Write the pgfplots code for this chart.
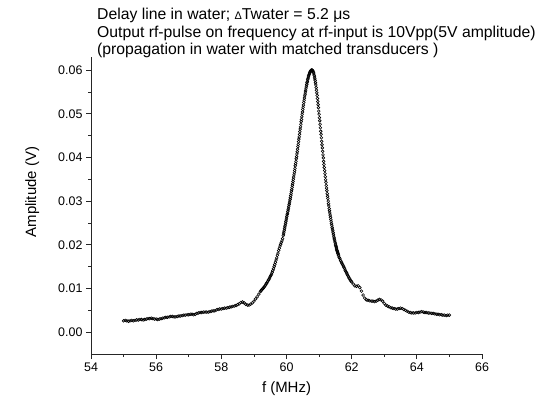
\documentclass[border=0pt]{standalone}
\usepackage{fontspec}
\setmainfont{Liberation Sans}
\usepackage{pgfplots}
\pgfplotsset{compat=1.18}
\begin{document}
\begin{tikzpicture}[x=1bp,y=1bp]
\path[use as bounding box] (0,0) rectangle (543,399);
\begin{axis}[
  at={(91bp,45bp)}, anchor=south west,
  scale only axis, width=391bp, height=297bp,
  xmin=54, xmax=66, ymin=-0.005, ymax=0.063,
  axis x line*=bottom, axis y line*=left,
  axis line style={-, line width=0.9bp, black!85},
  tick align=outside,
  xtick={54,56,58,60,62,64,66}, minor xtick={55,57,59,61,63,65},
  ytick={0,0.01,0.02,0.03,0.04,0.05,0.06},
  minor ytick={0.005,0.015,0.025,0.035,0.045,0.055},
  major tick length=5bp, minor tick length=3bp,
  every tick/.style={black!85, line width=0.8bp},
  /pgf/number format/assume math mode=true,
  tick label style={font=\fontsize{12.5}{13}\selectfont},
  yticklabel style={/pgf/number format/.cd, fixed, fixed zerofill, precision=2},
  scaled y ticks=false,
  xlabel={f (MHz)}, ylabel={Amplitude (V)},
  label style={font=\fontsize{15}{16}\selectfont},
  xlabel style={at={(axis description cs:0.5,-0.115)}, anchor=center},
  ylabel style={at={(axis description cs:-0.15,0.545)}, anchor=center},
  clip=false,
]
\addplot[only marks, mark=o, mark size=1.4pt, mark options={line width=0.6pt, black}] coordinates {
(55.00,0.0026) (55.05,0.0027) (55.10,0.0026) (55.15,0.0025) (55.20,0.0026) (55.25,0.0027) (55.30,0.0026) (55.35,0.0027)
(55.40,0.0028) (55.45,0.0028) (55.50,0.0029) (55.55,0.0029) (55.60,0.0028) (55.65,0.0029) (55.70,0.0030) (55.75,0.0031)
(55.80,0.0031) (55.85,0.0032) (55.90,0.0031) (55.95,0.0030) (56.00,0.0030) (56.05,0.0029) (56.10,0.0030) (56.15,0.0031)
(56.20,0.0032) (56.25,0.0033) (56.30,0.0034) (56.35,0.0034) (56.40,0.0035) (56.45,0.0036) (56.50,0.0036) (56.55,0.0035)
(56.60,0.0035) (56.65,0.0036) (56.70,0.0037) (56.75,0.0037) (56.80,0.0038) (56.85,0.0039) (56.90,0.0039) (56.95,0.0040)
(57.00,0.0040) (57.05,0.0041) (57.10,0.0041) (57.15,0.0040) (57.20,0.0041) (57.25,0.0043) (57.30,0.0044) (57.35,0.0045)
(57.40,0.0045) (57.45,0.0046) (57.50,0.0046) (57.55,0.0046) (57.60,0.0046) (57.65,0.0047) (57.70,0.0048) (57.75,0.0049)
(57.80,0.0049) (57.85,0.0051) (57.90,0.0052) (57.95,0.0053) (58.00,0.0053) (58.05,0.0054) (58.10,0.0055) (58.15,0.0055)
(58.20,0.0056) (58.25,0.0057) (58.30,0.0058) (58.35,0.0059) (58.40,0.0060) (58.45,0.0061) (58.50,0.0063) (58.55,0.0065)
(58.60,0.0068) (58.65,0.0069) (58.70,0.0067) (58.75,0.0064) (58.80,0.0062) (58.85,0.0062) (58.90,0.0064) (58.95,0.0067)
(59.00,0.0071) (59.05,0.0076) (59.10,0.0081) (59.15,0.0087)
(59.20,0.0093) (59.22,0.0095) (59.24,0.0097) (59.26,0.0099) (59.28,0.0100) (59.30,0.0102) (59.32,0.0104) (59.34,0.0106)
(59.36,0.0108) (59.38,0.0111) (59.40,0.0113) (59.42,0.0116) (59.44,0.0119) (59.46,0.0121) (59.48,0.0124) (59.50,0.0127)
(59.52,0.0130) (59.54,0.0133) (59.56,0.0137) (59.58,0.0141) (59.60,0.0145) (59.62,0.0150) (59.64,0.0155) (59.66,0.0160)
(59.68,0.0165) (59.70,0.0170) (59.72,0.0176) (59.74,0.0181) (59.76,0.0187) (59.78,0.0192) (59.80,0.0197) (59.82,0.0201)
(59.84,0.0205) (59.86,0.0209) (59.88,0.0214) (59.90,0.0221) (59.91,0.0225) (59.92,0.0229) (59.93,0.0233) (59.94,0.0237)
(59.95,0.0241) (59.96,0.0245) (59.97,0.0249) (59.98,0.0253) (59.99,0.0257) (60.00,0.0261) (60.01,0.0265) (60.02,0.0269)
(60.03,0.0272) (60.04,0.0276) (60.05,0.0280) (60.06,0.0284) (60.07,0.0288) (60.08,0.0292) (60.09,0.0296) (60.10,0.0300)
(60.11,0.0304) (60.12,0.0308) (60.13,0.0313) (60.14,0.0317) (60.15,0.0322) (60.16,0.0326) (60.17,0.0331) (60.18,0.0336)
(60.19,0.0340) (60.20,0.0345) (60.21,0.0350) (60.22,0.0355) (60.23,0.0360) (60.24,0.0365) (60.25,0.0370) (60.26,0.0375)
(60.27,0.0381) (60.28,0.0386) (60.29,0.0391) (60.30,0.0397) (60.31,0.0402) (60.32,0.0408) (60.33,0.0413) (60.34,0.0419)
(60.35,0.0425) (60.36,0.0430) (60.37,0.0436) (60.38,0.0442) (60.39,0.0447) (60.40,0.0453) (60.41,0.0459) (60.42,0.0465)
(60.43,0.0470) (60.44,0.0476) (60.45,0.0482) (60.46,0.0487) (60.47,0.0493) (60.48,0.0499) (60.49,0.0504) (60.50,0.0510)
(60.51,0.0515) (60.52,0.0520) (60.53,0.0526) (60.54,0.0531) (60.55,0.0536) (60.56,0.0541) (60.57,0.0545) (60.58,0.0550)
(60.59,0.0554) (60.60,0.0559) (60.61,0.0563) (60.62,0.0567) (60.63,0.0571) (60.64,0.0574) (60.65,0.0578) (60.66,0.0581)
(60.67,0.0584) (60.68,0.0587) (60.69,0.0589) (60.70,0.0591) (60.71,0.0593) (60.72,0.0595) (60.73,0.0597) (60.74,0.0598)
(60.75,0.0599) (60.76,0.0600) (60.77,0.0600) (60.78,0.0600) (60.79,0.0600) (60.80,0.0599) (60.81,0.0598) (60.82,0.0596)
(60.83,0.0594) (60.84,0.0591) (60.85,0.0588) (60.86,0.0584) (60.87,0.0580) (60.88,0.0576) (60.89,0.0571) (60.90,0.0566)
(60.91,0.0560) (60.92,0.0554) (60.93,0.0548) (60.94,0.0542) (60.95,0.0535) (60.96,0.0528) (60.97,0.0521) (60.98,0.0514)
(60.99,0.0506) (61.00,0.0499) (61.01,0.0491) (61.02,0.0484) (61.03,0.0476) (61.04,0.0468) (61.05,0.0460) (61.06,0.0453)
(61.07,0.0445) (61.08,0.0437) (61.09,0.0429) (61.10,0.0422) (61.11,0.0414) (61.12,0.0406) (61.13,0.0399) (61.14,0.0391)
(61.15,0.0384) (61.16,0.0377) (61.17,0.0370) (61.18,0.0363) (61.19,0.0356) (61.20,0.0349) (61.21,0.0343) (61.22,0.0336)
(61.23,0.0330) (61.24,0.0324) (61.25,0.0317) (61.26,0.0311) (61.27,0.0306) (61.28,0.0300) (61.29,0.0294) (61.30,0.0289)
(61.31,0.0283) (61.32,0.0278) (61.33,0.0273) (61.34,0.0268) (61.35,0.0263) (61.36,0.0258) (61.37,0.0254) (61.38,0.0249)
(61.39,0.0245) (61.40,0.0240) (61.41,0.0236) (61.42,0.0232) (61.43,0.0228) (61.44,0.0224) (61.45,0.0220) (61.46,0.0216)
(61.47,0.0213) (61.48,0.0209) (61.49,0.0206) (61.50,0.0202) (61.51,0.0199) (61.52,0.0196) (61.53,0.0193) (61.54,0.0190)
(61.55,0.0187) (61.56,0.0185) (61.57,0.0182) (61.58,0.0180) (61.59,0.0177) (61.60,0.0175)
(61.62,0.0171) (61.64,0.0168) (61.66,0.0164) (61.68,0.0161) (61.70,0.0158) (61.72,0.0155) (61.74,0.0152) (61.76,0.0149)
(61.78,0.0146) (61.80,0.0142) (61.82,0.0139) (61.84,0.0136) (61.86,0.0133) (61.88,0.0130) (61.90,0.0127) (61.92,0.0124)
(61.94,0.0122) (61.96,0.0119) (61.98,0.0117) (62.00,0.0115)
(62.05,0.0110) (62.10,0.0106) (62.15,0.0105) (62.20,0.0106) (62.25,0.0102) (62.30,0.0094) (62.35,0.0085) (62.40,0.0078)
(62.45,0.0074) (62.50,0.0073) (62.55,0.0072) (62.60,0.0071) (62.65,0.0071) (62.70,0.0070) (62.75,0.0071) (62.80,0.0073)
(62.85,0.0075) (62.90,0.0074) (62.95,0.0071) (63.00,0.0066) (63.05,0.0062) (63.10,0.0060) (63.15,0.0058) (63.20,0.0056)
(63.25,0.0055) (63.30,0.0054) (63.35,0.0053) (63.40,0.0053) (63.45,0.0054) (63.50,0.0055) (63.55,0.0054) (63.60,0.0052)
(63.65,0.0050) (63.70,0.0048) (63.75,0.0046) (63.80,0.0045) (63.85,0.0044) (63.90,0.0044) (63.95,0.0044) (64.00,0.0045)
(64.05,0.0045) (64.10,0.0046) (64.15,0.0047) (64.20,0.0046) (64.25,0.0045) (64.30,0.0045) (64.35,0.0044) (64.40,0.0044)
(64.45,0.0043) (64.50,0.0043) (64.55,0.0042) (64.60,0.0041) (64.65,0.0041) (64.70,0.0040) (64.75,0.0040) (64.80,0.0039)
(64.85,0.0039) (64.90,0.0038) (64.95,0.0039) (65.00,0.0039)
};
\end{axis}
\node[anchor=north west, align=left, inner sep=0pt, font=\fontsize{15.8}{17.5}\selectfont] at (97,391)
{Delay line in water; {\fontsize{11}{11}\selectfont Δ}Twater = 5.2 μs\\
Output rf-pulse on frequency at rf-input is 10Vpp(5V amplitude)\\
(propagation in water with matched transducers )};
\end{tikzpicture}
\end{document}
